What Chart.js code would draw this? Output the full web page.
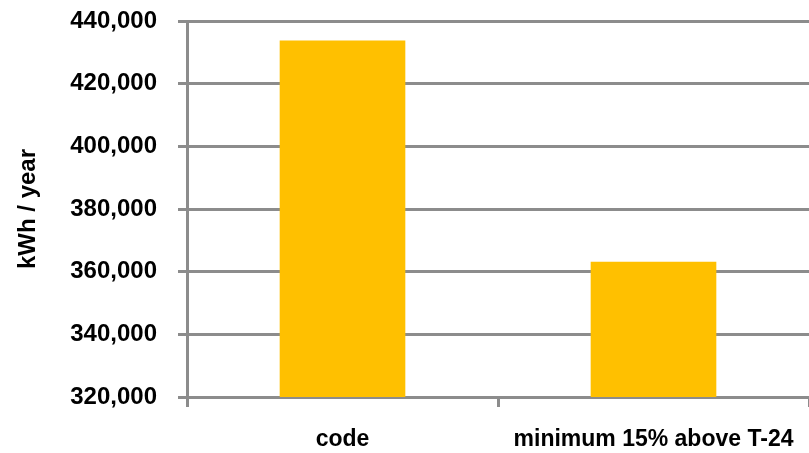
<!DOCTYPE html>
<html>
<head>
<meta charset="utf-8">
<script src="https://cdn.jsdelivr.net/npm/chart.js@4/dist/chart.umd.min.js"></script>
<style>
  html, body { margin: 0; padding: 0; background: #fff; }
  #wrap { width: 809px; height: 453px; }
</style>
</head>
<body>
<div id="wrap"><canvas id="energy" width="809" height="453"></canvas></div>
<script>
// annual energy use, kWh
const categories = ["code", "minimum 15% above T-24"];
const kwhPerYear = [433800, 363200];
const yMin = 320000;
const yMax = 440000;
const yStep = 20000;

const gridGray = "#8c8c8c";
const fontFamily = "'Liberation Sans', Arial, sans-serif";

new Chart(document.getElementById("energy"), {
  type: "bar",
  data: {
    labels: categories,
    datasets: [{
      data: kwhPerYear,
      backgroundColor: "#ffc000",
      borderWidth: 0,
      categoryPercentage: 1,
      barPercentage: 0.404
    }]
  },
  options: {
    responsive: false,
    animation: false,
    layout: { padding: { top: 21, right: 0, bottom: 0, left: 0 } },
    plugins: { legend: { display: false }, tooltip: { enabled: false } },
    scales: {
      x: {
        grid: { offset: true, drawOnChartArea: false, drawTicks: true, tickLength: 10, color: gridGray, lineWidth: 3 },
        border: { color: gridGray, width: 3 },
        ticks: { color: "#000", padding: 19, maxRotation: 0, font: { family: fontFamily, size: 23, weight: "bold" } },
        afterFit: (axis) => {
          axis.height = 56;
          axis.paddingLeft = 0;
          axis.paddingRight = 0;
        }
      },
      y: {
        min: yMin,
        max: yMax,
        ticks: {
          stepSize: yStep,
          color: "#000",
          padding: 21,
          font: { family: fontFamily, size: 24, weight: "bold" },
          callback: (v) => v.toLocaleString("en-US")
        },
        grid: { color: gridGray, lineWidth: 3, tickLength: 9 },
        border: { color: gridGray, width: 3 },
        title: {
          display: true,
          text: "kWh / year",
          color: "#000",
          padding: { top: 14, bottom: 0 },
          font: { family: fontFamily, size: 24, weight: "bold" }
        },
        afterFit: (axis) => {
          axis.width = 187;
          axis.paddingTop = 0;
          axis.paddingBottom = 0;
        }
      }
    }
  }
});
</script>
</body>
</html>
